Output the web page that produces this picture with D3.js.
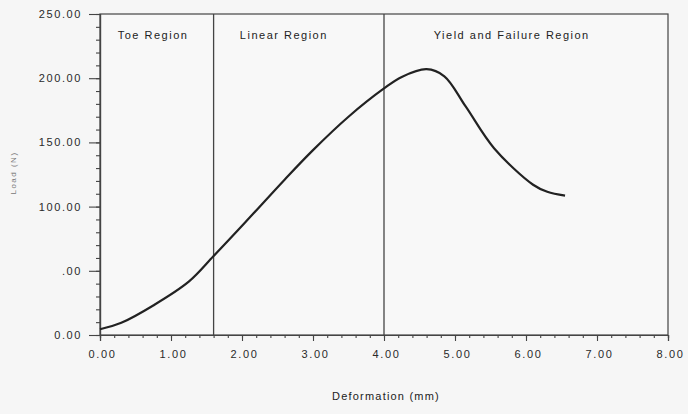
<!DOCTYPE html>
<html>
<head>
<meta charset="utf-8">
<script src="https://cdn.jsdelivr.net/npm/d3@7"></script>
<style>
body { margin: 0; background: #f6f6f6; }
text { font-family: "Liberation Sans", Arial, sans-serif; fill: #222; }
</style>
</head>
<body>
<script>

// curve: deformation (mm) and load
var deformation = [0, 0.3, 0.75, 1.25, 1.6, 2.05, 2.6, 3.0, 3.5, 4.0, 4.25, 4.6, 4.85, 5.15, 5.55, 6.1, 6.3, 6.55];
var load = [4.5, 9.5, 23, 41.5, 61.5, 88, 121, 144, 170, 192, 201, 207, 201.5, 178, 145.5, 117, 111.5, 108.5];

// region borders and names
var regionBorders = [1.6, 4.0];
var regionNames = ["Toe Region", "Linear Region", "Yield and Failure Region"];
var regionLabelX = [0.25, 1.97, 4.7];

// tick labels as printed
var xTicks = [0, 1, 2, 3, 4, 5, 6, 7, 8];
var xTickLabels = ["0.00", "1.00", "2.00", "3.00", "4.00", "5.00", "6.00", "7.00", "8.00"];
var yTicks = [0, 50, 100, 150, 200, 250];
var yTickLabels = ["0.00", ".00", "100.00", "150.00", "200.00", "250.00"];

var xTitle = "Deformation (mm)";
var yTitle = "Load (N)";

var width = 688, height = 414;
var mLeft = 100, mRight = 668, mTop = 14, mBottom = 335;

var svg = d3.select('body').append('svg')
    .attr("width", width)
    .attr("height", height);

var x = d3.scaleLinear().domain([0, 8]).range([mLeft, mRight]);
var y = d3.scaleLinear().domain([0, 250]).range([mBottom, mTop]);

// box
svg.append("rect")
    .attr("x", mLeft).attr("y", mTop)
    .attr("width", mRight - mLeft).attr("height", mBottom - mTop)
    .style("fill", "#f8f8f8")
    .style("stroke", "#444")
    .style("stroke-width", 1.2);

// minor ticks
svg.append("g").attr("transform", "translate(0," + mBottom + ")")
    .call(d3.axisBottom(x).ticks(40).tickSize(3).tickFormat(""));
svg.append("g").attr("transform", "translate(" + mLeft + ",0)")
    .call(d3.axisLeft(y).ticks(25).tickSize(4).tickFormat(""));

// major ticks
var xAxis = svg.append("g").attr("transform", "translate(0," + mBottom + ")")
    .call(d3.axisBottom(x).tickValues(xTicks).tickSize(6).tickPadding(9)
        .tickFormat(function(d, i){return xTickLabels[i]}));
var yAxis = svg.append("g").attr("transform", "translate(" + mLeft + ",0)")
    .call(d3.axisLeft(y).tickValues(yTicks).tickSize(11).tickPadding(5)
        .tickFormat(function(d, i){return yTickLabels[i]}));

svg.selectAll(".domain").style("stroke", "#444").style("stroke-width", 1.2);
svg.selectAll(".tick line").style("stroke", "#444").style("stroke-width", 1.1);
svg.selectAll(".tick text")
    .attr("font-size", "11px")
    .style("letter-spacing", "1.6px")
    .style("font-family", '"Liberation Sans", Arial, sans-serif')
    .style("fill", "#2a2a2a");
yAxis.selectAll(".tick text").attr("dx", "-2px");
xAxis.selectAll(".tick text").attr("dx", "2px");

// region borders
svg.selectAll("line.border")
    .data(regionBorders)
    .enter()
    .append("line")
    .attr("class", "border")
    .attr('x1', function(d){return x(d)})
    .attr('x2', function(d){return x(d)})
    .attr('y1', mTop)
    .attr('y2', mBottom)
    .style("stroke", "#444")
    .style("stroke-width", 1.3);

svg.selectAll("text.region")
    .data(regionNames)
    .enter()
    .append("text")
    .attr("class", "region")
    .attr("x", function(d, i){return x(regionLabelX[i])})
    .attr("y", 39)
    .attr("font-size", "11px")
    .style("letter-spacing", "1.5px")
    .text(function(d){return d});

// curve
var line = d3.line()
    .curve(d3.curveCatmullRom)
    .x(function(d){return x(d[0])})
    .y(function(d){return y(d[1])});

svg.append("path")
    .datum(d3.zip(deformation, load))
    .attr("d", line)
    .style("fill", "none")
    .style("stroke", "#222")
    .style("stroke-width", 2.2)
    .style("stroke-linejoin", "round");

// axis titles
svg.append("text")
    .attr("x", 386)
    .attr("y", 400)
    .attr("text-anchor", "middle")
    .attr("font-size", "11px")
    .style("letter-spacing", "1.2px")
    .text(xTitle);

svg.append("text")
    .attr("transform", "translate(16,173) rotate(-90)")
    .attr("text-anchor", "middle")
    .attr("font-size", "8px")
    .style("letter-spacing", "1.5px")
    .style("fill", "#777")
    .text(yTitle);

</script>
</body>
</html>
